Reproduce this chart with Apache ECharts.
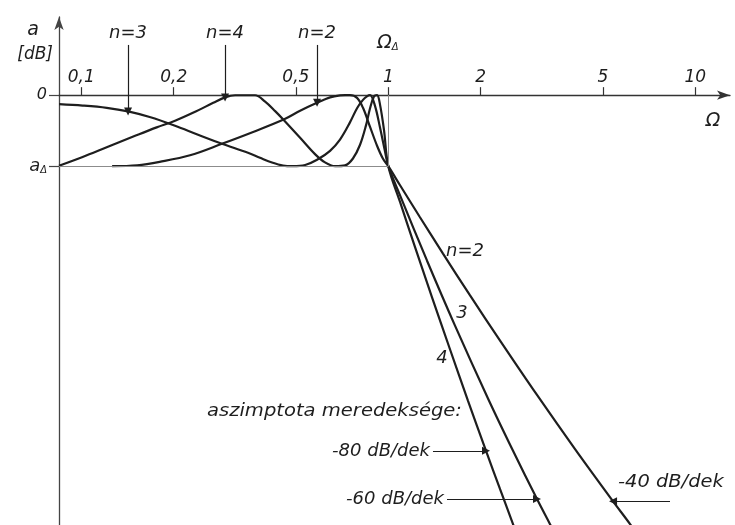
<!DOCTYPE html>
<html>
<head>
<meta charset="utf-8">
<script src="https://cdn.jsdelivr.net/npm/echarts@6/dist/echarts.min.js"></script>
<style>
  html, body { margin: 0; padding: 0; background: #fff; }
  #c { width: 735px; height: 525px; }
</style>
</head>
<body>
<div id="c"></div>
<script>
// Chebyshev low-pass: attenuation a [dB] against normalised frequency Ω (log scale).
// Passband ripple aΔ; curves for filter orders n = 2, 3, 4.
const aDelta = 6;
const omegaMin = 0.0846;
const omegaMax = 12.97;
const aTop = -6.6;      // axis top (above 0 dB)
const aBottom = 36.3;   // axis bottom

const xTickValues = [0.1, 0.2, 0.5, 1, 2, 5, 10];
const xTickLabels = ['0,1', '0,2', '0,5', '1', '2', '5', '10'];

// [Ω, a(dB)]
const curveN2 = [
  [0.126, 6.0], [0.152, 5.92], [0.180, 5.63], [0.226, 5.08], [0.287, 4.11],
  [0.361, 3.13], [0.458, 2.04], [0.516, 1.32], [0.586, 0.65], [0.646, 0.19],
  [0.696, 0.02], [0.723, 0], [0.750, 0], [0.791, 0.23], [0.827, 1.07],
  [0.872, 2.68], [0.919, 4.27], [0.961, 5.37], [1, 6],
  [1.092, 7.61], [1.268, 10.31], [1.507, 13.38], [1.846, 16.91], [2.312, 20.73],
  [3.050, 25.32], [4.057, 29.89], [5.395, 34.30], [6.130, 36.22], [6.5, 37.2]
];
const curveN3 = [
  [0.0846, 0.76], [0.101, 0.88], [0.121, 1.07], [0.142, 1.37], [0.167, 1.85],
  [0.202, 2.59], [0.240, 3.35], [0.287, 4.11], [0.349, 4.87], [0.382, 5.29],
  [0.418, 5.69], [0.454, 5.95], [0.489, 6.0], [0.536, 5.90], [0.586, 5.46],
  [0.646, 4.70], [0.696, 3.75], [0.750, 2.30], [0.791, 1.10], [0.827, 0.40],
  [0.852, 0.10], [0.872, 0], [0.905, 0.90], [0.940, 2.76], [0.976, 4.78], [1, 6],
  [1.092, 8.47], [1.337, 13.98], [1.649, 19.46], [2.112, 25.61], [2.548, 30.03],
  [3.050, 34.11], [3.363, 36.23], [3.5, 37.1]
];
const curveN4 = [
  [0.0846, 5.96], [0.101, 5.22], [0.121, 4.40], [0.147, 3.52], [0.176, 2.72],
  [0.202, 2.16], [0.235, 1.40], [0.269, 0.65], [0.294, 0.19], [0.317, 0.01],
  [0.368, 0.01], [0.397, 0.55], [0.428, 1.35], [0.454, 2.04], [0.516, 3.60],
  [0.577, 4.98], [0.622, 5.68], [0.671, 6.0], [0.723, 5.93], [0.767, 5.35],
  [0.809, 4.19], [0.846, 2.55], [0.872, 1.10], [0.898, 0.12], [0.919, 0],
  [0.940, 0.82], [0.968, 2.93], [1, 6],
  [1.092, 9.02], [1.222, 12.83], [1.388, 17.07], [1.589, 21.48], [1.818, 25.81],
  [2.081, 30.04], [2.312, 33.28], [2.548, 36.23], [2.65, 37.5]
];

// Pointer arrows: label, curve point they touch, and (for horizontal ones) start Ω
const pointerTopA = -4.24;
const orderPointers = [
  ['n=3', curveN3[3]],
  ['n=4', curveN4[8]],
  ['n=2', curveN2[8]]
];
const slopePointers = [
  ['-80 dB/dek', 1.398, curveN4[33]],
  ['-60 dB/dek', 1.553, curveN3[31]],
  ['', 8.27, curveN2[26]]
];

const chart = echarts.init(document.getElementById('c'), null, { renderer: 'canvas' });
const lg = Math.log10;
const toXY = ([w, a]) => [lg(w), -a];
const ink = '#1e1e1e';
const FONT = 'DejaVu Sans';
const textStyle = (size) => ({ fontFamily: FONT, fontStyle: 'italic', fontSize: size, color: ink });

const gridTop = 17, gridBottom = 0, chartHeight = 525;
// distance from the grid's top edge down to the 0 dB line, where the Ω axis runs
const zeroDrop = (chartHeight - gridTop - gridBottom) * (-aTop) / (aBottom - aTop);

const xTickLog = xTickValues.map(lg);

function verticalPointer([label, pt]) {
  const x = lg(pt[0]);
  return [{ coord: [x, -pointerTopA], name: label }, { coord: [x, -pt[1]] }];
}
function sidePointer([label, w0, pt]) {
  const y = -pt[1];
  const first = { coord: [lg(w0), y], name: label };
  if (!label) first.label = { show: false };
  return [first, { coord: [lg(pt[0]), y] }];
}
const pointerLine = {
  silent: true,
  animation: false,
  symbol: ['none', 'triangle'],
  symbolSize: 8,
  lineStyle: { color: ink, width: 1.2, type: 'solid' },
  label: Object.assign({ show: true, position: 'start', distance: 3, formatter: p => p.name }, textStyle(18))
};
const guideStyle = { color: '#8c8c8c', width: 1, type: 'solid' };

function curveSeries(name, data, marks) {
  return {
    name, type: 'line', data: data.map(toXY), showSymbol: false, smooth: 0.35,
    silent: true, animation: false,
    lineStyle: { color: ink, width: 2.2 },
    markLine: Object.assign({}, pointerLine, { data: marks })
  };
}

const option = {
  animation: false,
  backgroundColor: '#fff',
  grid: { left: 59, right: 5, top: gridTop, bottom: gridBottom, containLabel: false, outerBoundsMode: 'none' },
  xAxis: {
    type: 'value', min: lg(omegaMin), max: lg(omegaMax), position: 'top',
    offset: -zeroDrop,
    splitLine: { show: false },
    axisLine: { onZero: false, symbol: ['none', 'arrow'], symbolSize: [7, 13],
      lineStyle: { color: '#333', width: 1.3 } },
    axisTick: { customValues: xTickLog, length: 8, lineStyle: { color: '#333', width: 1.2 } },
    axisLabel: Object.assign({
      customValues: xTickLog, margin: 9,
      formatter: v => xTickLabels[xTickLog.findIndex(t => Math.abs(t - v) < 1e-6)]
    }, textStyle(17)),
    name: 'Ω', nameLocation: 'end', nameGap: -17,
    nameTextStyle: Object.assign({ align: 'center', verticalAlign: 'top', padding: [16, 0, 0, 0] }, textStyle(19))
  },
  yAxis: {
    type: 'value', min: -aBottom, max: -aTop,
    splitLine: { show: false },
    axisLine: { onZero: false, symbol: ['none', 'arrow'], symbolSize: [7, 13],
      lineStyle: { color: '#444', width: 1.3 } },
    axisTick: { customValues: [0, -aDelta], length: 10, lineStyle: { color: '#444', width: 1.2 } },
    axisLabel: {
      customValues: [0, -aDelta], margin: 12,
      formatter: v => (v === 0 ? '{z|0}' : '{a|a}{s|Δ}'),
      rich: {
        z: textStyle(16),
        a: textStyle(18),
        s: Object.assign(textStyle(10), { verticalAlign: 'bottom', padding: [6, 0, 0, 0] })
      }
    },
    name: '{a|a}\n{u|[dB]}', nameLocation: 'end', nameGap: -1,
    nameTextStyle: {
      align: 'right', verticalAlign: 'top', padding: [0, 6, 0, 0],
      rich: {
        a: Object.assign(textStyle(19), { padding: [0, 14, 0, 0], lineHeight: 24 }),
        u: Object.assign(textStyle(17), { lineHeight: 26 })
      }
    }
  },
  series: [
    curveSeries('n=2', curveN2, [
      verticalPointer(orderPointers[2]),
      sidePointer(slopePointers[2]),
      [{ coord: [lg(omegaMin), -aDelta], symbol: 'none', lineStyle: guideStyle, label: { show: false } },
       { coord: [0, -aDelta], symbol: 'none' }],
      [{ coord: [0, 0], symbol: 'none', lineStyle: guideStyle, label: { show: false } },
       { coord: [0, -aDelta], symbol: 'none' }]
    ]),
    curveSeries('n=3', curveN3, [verticalPointer(orderPointers[0]), sidePointer(slopePointers[1])]),
    curveSeries('n=4', curveN4, [verticalPointer(orderPointers[1]), sidePointer(slopePointers[0])])
  ],
  graphic: [
    { type: 'text', x: 388, y: 43, silent: true,
      style: { text: '{o|Ω}{s|Δ}', align: 'center', verticalAlign: 'middle',
        rich: {
          o: { fontFamily: FONT, fontStyle: 'italic', fontSize: 19, fill: ink },
          s: { fontFamily: FONT, fontStyle: 'italic', fontSize: 10, fill: ink, verticalAlign: 'bottom', padding: [7, 0, 0, 0] }
        } } },
    { type: 'text', x: 446, y: 251, silent: true,
      style: { text: 'n=2', align: 'left', verticalAlign: 'middle', font: 'italic 18px ' + FONT, fill: ink } },
    { type: 'text', x: 462, y: 313, silent: true,
      style: { text: '3', align: 'center', verticalAlign: 'middle', font: 'italic 18px ' + FONT, fill: ink } },
    { type: 'text', x: 442, y: 358, silent: true,
      style: { text: '4', align: 'center', verticalAlign: 'middle', font: 'italic 18px ' + FONT, fill: ink } },
    { type: 'text', x: 207, y: 412, scaleX: 1.15, silent: true,
      style: { text: 'aszimptota meredeksége:', align: 'left', verticalAlign: 'middle', font: 'italic 17px ' + FONT, fill: ink } },
    { type: 'text', x: 618, y: 482, scaleX: 1.08, silent: true,
      style: { text: '-40 dB/dek', align: 'left', verticalAlign: 'middle', font: 'italic 18px ' + FONT, fill: ink } }
  ]
};

chart.setOption(option);
</script>
</body>
</html>
